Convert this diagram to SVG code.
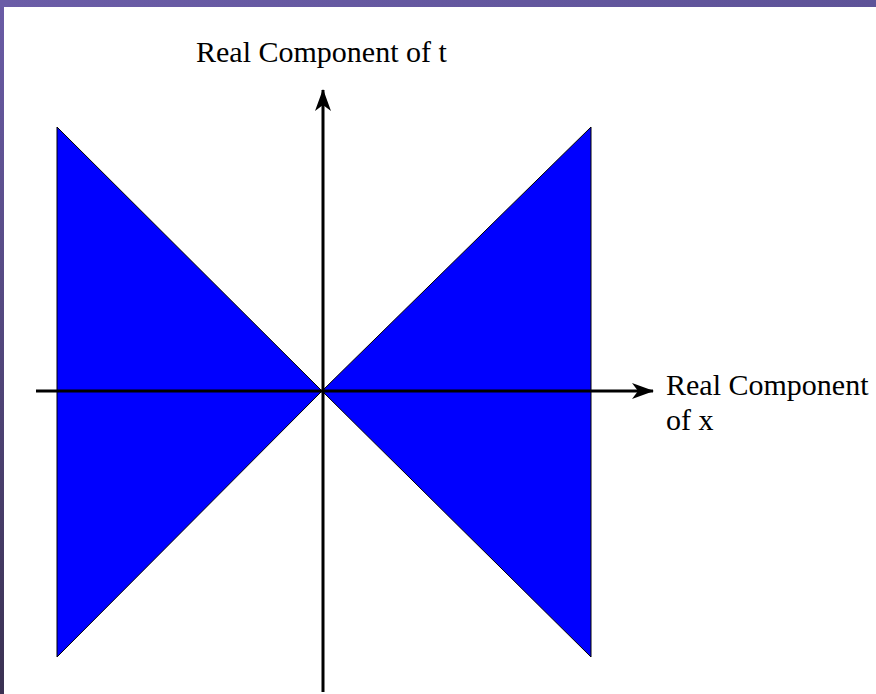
<svg xmlns="http://www.w3.org/2000/svg" width="876" height="694" viewBox="0 0 876 694">
<defs>
<linearGradient id="side" x1="0" y1="0" x2="0" y2="1">
<stop offset="0" stop-color="#6a5ca6"/>
<stop offset="1" stop-color="#3a3152"/>
</linearGradient>
<linearGradient id="top" x1="0" y1="0" x2="1" y2="0">
<stop offset="0" stop-color="#6b5da7"/>
<stop offset="1" stop-color="#5e5398"/>
</linearGradient>
<marker id="arr" markerWidth="22" markerHeight="16" refX="21" refY="8" orient="auto" markerUnits="userSpaceOnUse">
<path d="M0,0 L22,8 L0,16 L6,8 Z" fill="#000"/>
</marker>
</defs>
<style>
.tri{fill:#0000ff;stroke:#000;stroke-width:1}
.axis{stroke:#000;stroke-width:3;fill:none}
.lbl{font-family:"Liberation Serif","Times New Roman",serif;font-size:30px;fill:#000}
</style>
<rect x="0" y="0" width="876" height="694" fill="#fff"/>
<rect x="0" y="0" width="4" height="694" fill="url(#side)"/>
<rect x="0" y="0" width="876" height="7" fill="url(#top)"/>
<g id="left-region"><polygon class="tri" points="57,127 322,391 57,657"/></g>
<g id="right-region"><polygon class="tri" points="591,127 322,391 591,657"/></g>
<g id="connectors">
<line class="axis" x1="323" y1="692" x2="323" y2="90" marker-end="url(#arr)"/>
<line class="axis" x1="36" y1="391" x2="653" y2="391" marker-end="url(#arr)"/>
</g>
<g id="t-label"><text class="lbl" x="196" y="62">Real Component of t</text></g>
<g id="x-label"><text class="lbl" x="666" y="395">Real Component</text><text class="lbl" x="666" y="430">of x</text></g>
</svg>
